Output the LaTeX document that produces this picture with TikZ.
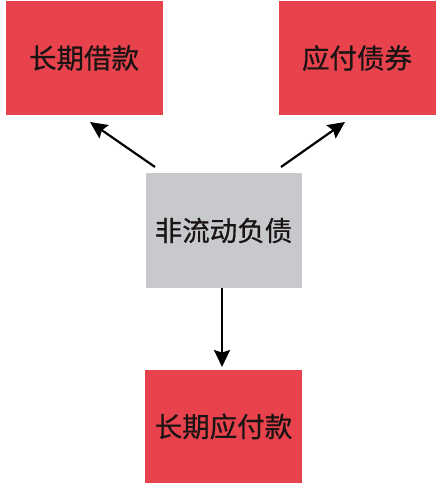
\documentclass[tikz,border=0pt]{standalone}
\usepackage{fontspec}
\newfontfamily\cjk[FakeBold=0.7]{Noto Sans CJK SC}
\usetikzlibrary{arrows.meta}
\definecolor{boxred}{RGB}{232,66,76}
\definecolor{boxgray}{RGB}{200,201,204}
\definecolor{txt}{RGB}{26,20,20}
\tikzset{
  redbox/.style={fill=boxred, draw=none, inner sep=0pt, font=\cjk\fontsize{27.5}{32}\selectfont, text=txt},
  graybox/.style={fill=boxgray, draw=none, inner sep=0pt, font=\cjk\fontsize{27.5}{32}\selectfont, text=txt},
  conn/.style={line width=2.2pt, -{Stealth[length=17pt,width=16pt,inset=2.5pt]}}
}
\begin{document}
\begin{tikzpicture}[x=1pt,y=-1pt]
\useasboundingbox (0,0) rectangle (440,483);
\node[redbox, minimum width=157pt, minimum height=114pt] (a) at (84,58) {长期借款};
\node[redbox, minimum width=157pt, minimum height=114pt] (b) at (357,58) {应付债券};
\node[graybox, minimum width=156pt, minimum height=115pt] (c) at (223.5,230.5) {非流动负债};
\node[redbox, minimum width=157pt, minimum height=114pt] (d) at (223.5,426.5) {长期应付款};
\coordinate (c1) at (155,167);
\coordinate (c2) at (281,167);
\coordinate (t1) at (90,122);
\coordinate (t2) at (345,122);
\coordinate (s3) at (222,288);
\coordinate (t3) at (222,367);
\draw[conn] (c1) -- (t1);
\draw[conn] (c2) -- (t2);
\draw[conn] (s3) -- (t3);
\end{tikzpicture}
\end{document}
